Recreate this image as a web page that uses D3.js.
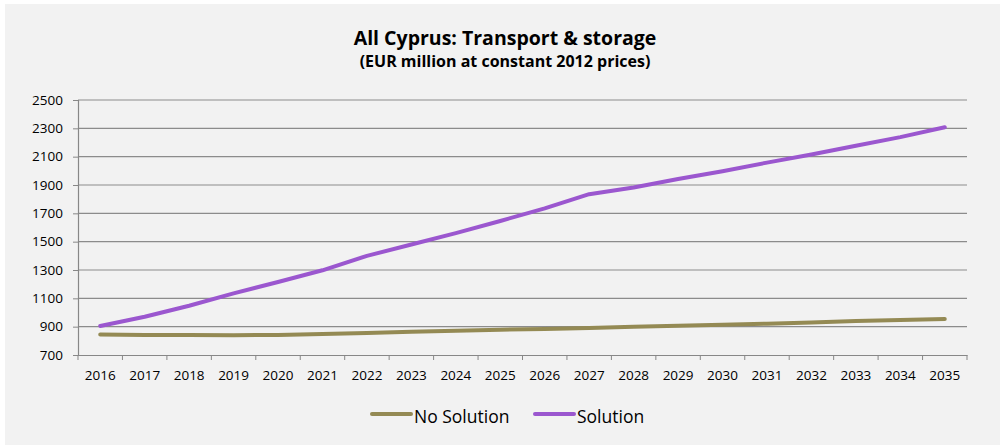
<!DOCTYPE html>
<html>
<head>
<meta charset="utf-8">
<script src="https://cdn.jsdelivr.net/npm/d3@7"></script>
<style>
  html, body { margin: 0; padding: 0; background: #fff; }
  svg { display: block; font-family: "Open Sans", Lato, sans-serif; }
</style>
</head>
<body>
<div id="chart"></div>
<script>
// All Cyprus: Transport & storage - line chart

const YEARS = [2016, 2017, 2018, 2019, 2020, 2021, 2022, 2023, 2024, 2025,
               2026, 2027, 2028, 2029, 2030, 2031, 2032, 2033, 2034, 2035];

const NO_SOLUTION = [844, 842, 841, 840, 842, 848, 855, 864, 872, 879,
                     884, 891, 900, 907, 914, 921, 930, 940, 947, 954];

const SOLUTION = [905, 970, 1048, 1135, 1215, 1298, 1400, 1480, 1560, 1646,
                  1735, 1835, 1882, 1942, 1997, 2058, 2115, 2177, 2238, 2308];

const Y_TICKS = [700, 900, 1100, 1300, 1500, 1700, 1900, 2100, 2300, 2500];

const SERIES = [
    { name: "No Solution", values: NO_SOLUTION, color: "#948a54" },
    { name: "Solution", values: SOLUTION, color: "#9b57cf" }
];

function createChart() {
    const W = 1000, H = 445;
    const margin = { top: 100, right: 33, bottom: 90, left: 78 };
    const width = W - margin.left - margin.right;
    const height = H - margin.top - margin.bottom;

    const root = d3.select('#chart')
        .append('svg')
        .attr('width', W)
        .attr('height', H);

    // chart background
    root.append('rect')
        .attr('x', 5).attr('y', 4)
        .attr('width', W - 5).attr('height', H - 4)
        .attr('fill', '#f2f2f2');

    // titles
    root.append('text')
        .attr('x', 505).attr('y', 45)
        .attr('text-anchor', 'middle')
        .style('font-size', '19.5px')
        .style('font-weight', 'bold')
        .style('fill', '#000')
        .text('All Cyprus: Transport & storage');

    root.append('text')
        .attr('x', 505).attr('y', 67)
        .attr('text-anchor', 'middle')
        .style('font-size', '16px')
        .style('font-weight', 'bold')
        .style('fill', '#000')
        .text('(EUR million at constant 2012 prices)');

    const svg = root.append('g')
        .attr('transform', `translate(${margin.left},${margin.top})`);

    const xScale = d3.scaleBand()
        .domain(YEARS)
        .range([0, width]);

    const yScale = d3.scaleLinear()
        .domain([700, 2500])
        .range([height, 0]);

    // horizontal grid lines
    svg.append('g')
        .selectAll('line')
        .data(Y_TICKS.slice(1))
        .enter()
        .append('line')
        .attr('x1', 0).attr('x2', width)
        .attr('y1', d => yScale(d)).attr('y2', d => yScale(d))
        .style('stroke', '#8c8c8c')
        .style('stroke-width', 1.2);

    // y axis
    const yAxis = svg.append('g')
        .call(d3.axisLeft(yScale)
            .tickValues(Y_TICKS)
            .tickFormat(d3.format('d'))
            .tickSize(5)
            .tickPadding(10));

    // x axis with tick marks at category boundaries
    const xAxis = svg.append('g')
        .attr('transform', `translate(0,${height})`)
        .call(d3.axisBottom(xScale).tickSize(0).tickPadding(15));

    xAxis.selectAll('.boundary')
        .data(YEARS.concat([null]))
        .enter()
        .append('line')
        .attr('class', 'boundary')
        .attr('x1', (d, i) => i * xScale.step())
        .attr('x2', (d, i) => i * xScale.step())
        .attr('y1', 0).attr('y2', 5)
        .style('stroke', '#878787');

    [yAxis, xAxis].forEach(ax => {
        ax.select('.domain').style('stroke', '#878787').style('stroke-width', 1.2);
        ax.selectAll('.tick line').style('stroke', '#878787');
        ax.selectAll('text')
            .style('font-family', '"Open Sans", Lato, sans-serif')
            .style('font-size', '13.5px')
            .style('fill', '#000');
    });

    // lines
    const line = d3.line()
        .x((d, i) => xScale(YEARS[i]) + xScale.bandwidth() / 2)
        .y(d => yScale(d));

    svg.selectAll('.series')
        .data(SERIES)
        .enter()
        .append('path')
        .attr('class', 'series')
        .attr('d', d => line(d.values))
        .style('fill', 'none')
        .style('stroke', d => d.color)
        .style('stroke-width', 4)
        .style('stroke-linecap', 'round')
        .style('stroke-linejoin', 'round');

    // legend
    const legend = root.append('g')
        .attr('transform', 'translate(372, 414)');

    const legendItems = legend.selectAll('g')
        .data(SERIES)
        .enter()
        .append('g')
        .attr('transform', (d, i) => `translate(${i * 163}, 0)`);

    legendItems.append('line')
        .attr('x1', 0).attr('x2', 39)
        .attr('y1', 0).attr('y2', 0)
        .style('stroke', d => d.color)
        .style('stroke-width', 4)
        .style('stroke-linecap', 'round');

    legendItems.append('text')
        .attr('x', 42)
        .attr('y', 9)
        .style('font-size', '17.5px')
        .style('fill', '#000')
        .text(d => d.name);
}

createChart();
</script>
</body>
</html>
